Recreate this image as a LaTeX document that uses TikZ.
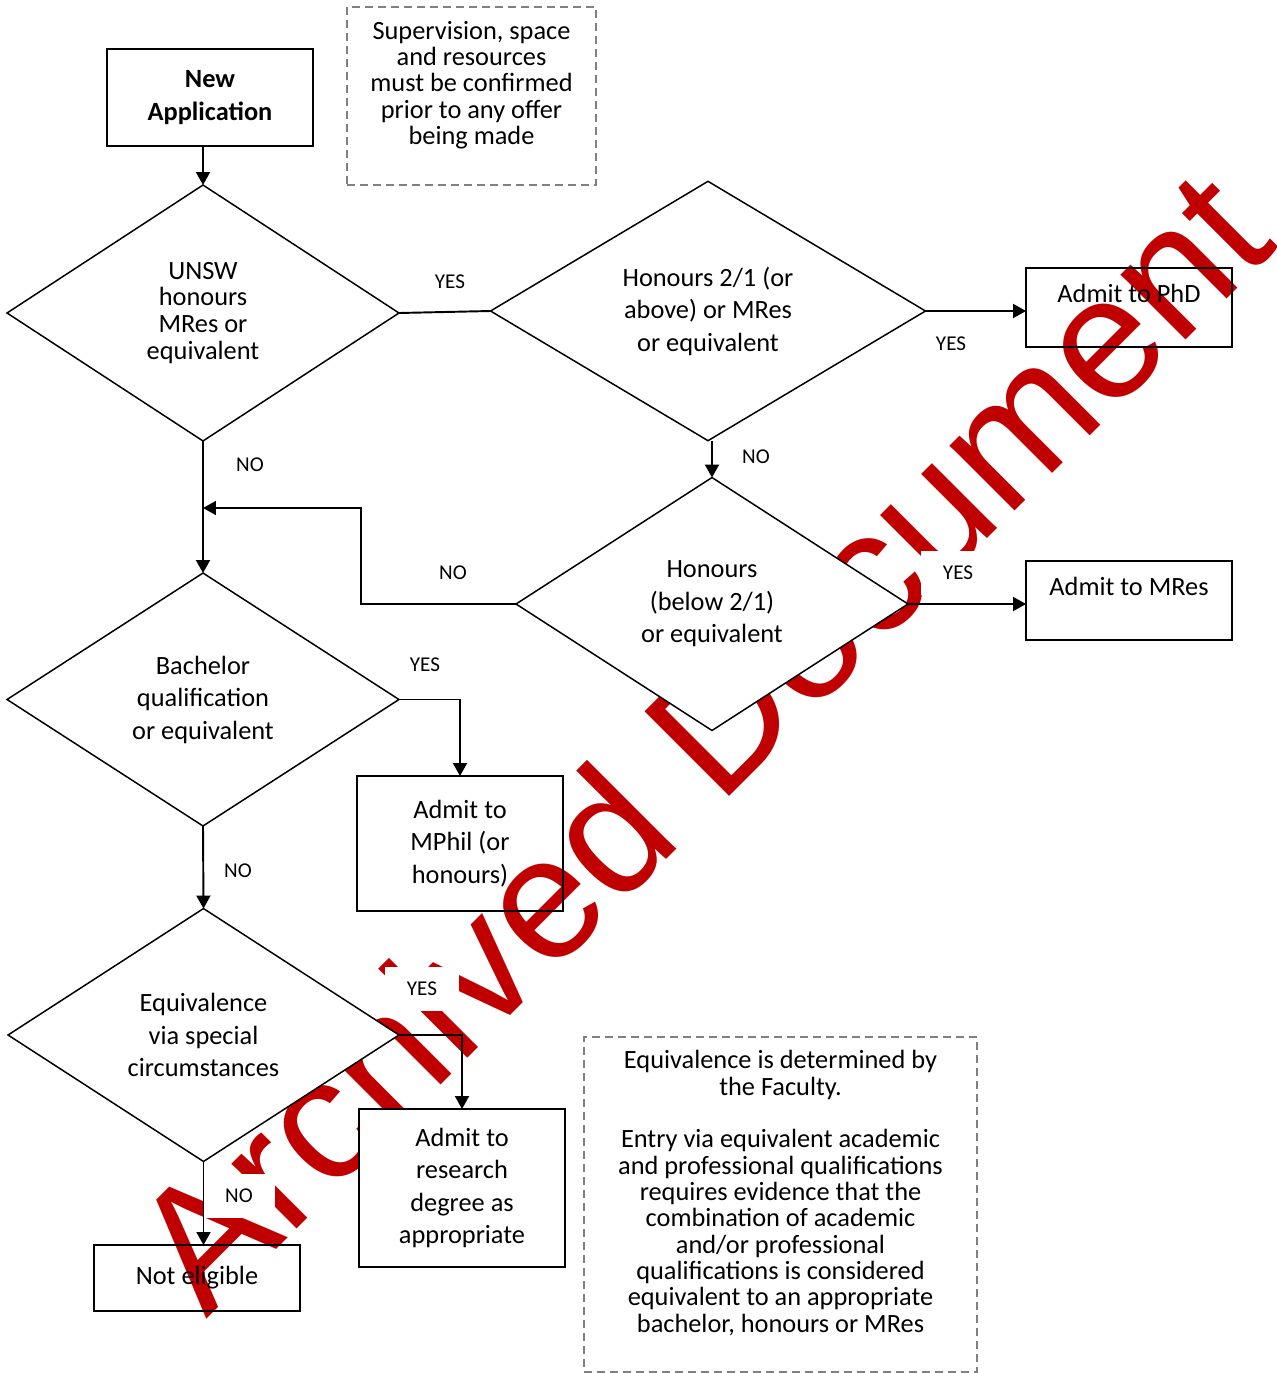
\documentclass[tikz,border=0pt]{standalone}
\usepackage{fontspec}
\setmainfont{Carlito}
\newfontfamily\wmfont{Liberation Sans}
\usepackage{tikz}
\usetikzlibrary{shapes.geometric,arrows.meta}
\usepackage{xcolor}
\definecolor{wmred}{RGB}{192,0,0}
\definecolor{notegray}{RGB}{128,128,128}

\begin{document}
\begin{tikzpicture}[x=0.02cm, y=-0.02cm, >={Triangle[length=0.26cm,width=0.28cm]},
	every node/.style={font=\fontsize{15}{18.5}\selectfont},
	decision/.style={shape=diamond, draw, fill=white, line width=0.85pt, inner sep=0pt, outer sep=0pt, align=center, minimum width=7.84cm, minimum height=5.06cm},
	outcome/.style={draw, line width=1.1pt, inner sep=0pt, outer sep=0pt, align=center, minimum width=4.12cm},
	note/.style={draw=notegray, line width=1.1pt, dash pattern=on 0.16cm off 0.1cm, inner sep=0pt, align=center, font=\fontsize{15}{15}\selectfont},
	answer/.style={fill=white, inner xsep=0.44cm, inner ysep=0.3cm, font=\fontsize{12}{14}\selectfont},
	link/.style={->, line width=1.1pt}]
\useasboundingbox (0,0) rectangle (1276,1373);

\node[rotate=45, anchor=base west, inner sep=0pt, text=wmred, font=\wmfont\fontsize{99}{99}\selectfont] (wm) at (206.5,1319.5) {Archived Document};

\node[answer] (yes1) at (450,282) {YES};
\node[answer] (yes2) at (951,344) {YES};
\node[answer] (no1) at (250,465) {NO};
\node[answer] (no2) at (756,457) {NO};
\node[answer] (no3) at (453,573) {NO};
\node[answer] (yes3) at (958,573) {YES};
\node[answer] (yes4) at (425,665) {YES};
\node[answer] (no4) at (238,871) {NO};
\node[answer] (yes5) at (422,989) {YES};
\node[answer] (no5) at (239,1196) {NO};

\node[outcome, minimum height=1.94cm, font=\bfseries\fontsize{15}{18.5}\selectfont] (app) at (210,97.5) {New\\Application};
\node[note, minimum width=4.98cm, minimum height=3.56cm] (cnote) at (471.5,96) {Supervision, space\\and resources\\must be confirmed\\prior to any offer\\being made\\ \mbox{}};

\node[decision, minimum height=5.12cm, font=\fontsize{15}{15.3}\selectfont] (q1) at (203,313) {UNSW\\honours\\MRes or\\equivalent};
\node[decision, minimum width=8.7cm] (q2) at (708,311) {Honours 2/1 (or\\above) or MRes\\or equivalent};
\node[outcome, minimum height=1.58cm, text height=0.36cm, text depth=0.58cm] (phd) at (1129,307.5) {Admit to PhD};
\node[decision] (q3) at (712,604) {Honours\\(below 2/1)\\or equivalent};
\node[outcome, minimum height=1.58cm, text height=0.36cm, text depth=0.58cm] (mres) at (1129,600.5) {Admit to MRes};
\node[decision] (q4) at (203,699.5) {Bachelor\\qualification\\or equivalent};
\node[outcome, minimum height=2.7cm] (mphil) at (460,843.5) {Admit to\\MPhil (or\\honours)};
\node[decision, minimum width=7.82cm] (q5) at (203.5,1035) {Equivalence\\via special\\circumstances};
\node[outcome, fill=white, minimum height=3.16cm] (res) at (462,1188) {Admit to\\research\\degree as\\appropriate};
\node[outcome, minimum height=1.32cm] (nel) at (197,1278) {Not eligible};
\node[note, minimum width=7.86cm, minimum height=6.7cm] (enote) at (780.5,1204.5) {Equivalence is determined by\\the Faculty.\\[15pt]Entry via equivalent academic\\and professional qualifications\\requires evidence that the\\combination of academic\\and/or professional\\qualifications is considered\\equivalent to an appropriate\\bachelor, honours or MRes\\ \mbox{}};

\coordinate (merge) at (203,508);
\draw[link] (q1.north |- app.south) -- (q1.north);
\draw[line width=1.1pt] (q1.east) -- (q2.west);
\draw[link] (q2.east) -- (q2.east -| phd.west);
\draw[link] (q3.north |- q2.south) -- (q3.north);
\draw[link] (q1.south) -- (q4.north);
\draw[link] (q3.west) -- ++(-155,0) |- (merge);
\draw[link] (q3.east) -- (q3.east -| mres.west);
\draw[link] (q4.east) -| (mphil.north);
\draw[link] (q4.south) -- (q5.north);
\draw[link] (q5.east) -| (res.north);
\draw[link] (q5.south) -- (q5.south |- nel.north);
\end{tikzpicture}
\end{document}
